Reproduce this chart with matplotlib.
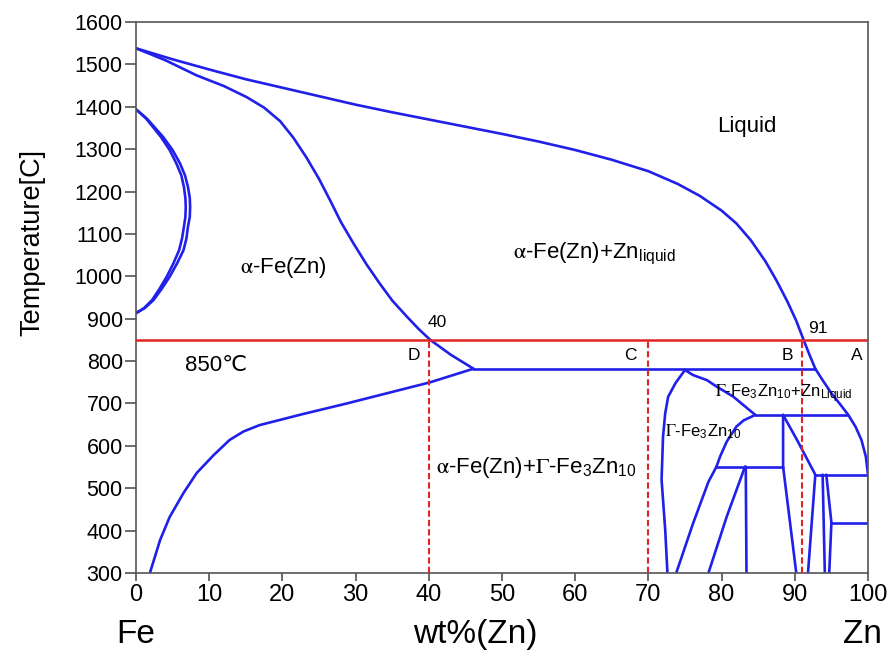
import matplotlib
matplotlib.use("Agg")
import matplotlib.pyplot as plt

plt.rcParams.update({
    "font.family": ["Liberation Sans", "DejaVu Sans"],
    "mathtext.fontset": "stix",
    "axes.linewidth": 1.2,
})

# ---- phase boundaries: (wt% Zn, T in C) ----
liq_x = [0, 5, 10, 15, 20, 25, 30, 35, 40, 45, 50, 55, 60, 65, 70, 74, 77, 80,
         82, 84, 86, 87.5, 89, 90.2, 91.2, 92, 92.8]
liq_t = [1538, 1512, 1488, 1465, 1445, 1425, 1405, 1387, 1370, 1353, 1336, 1318,
         1298, 1275, 1248, 1218, 1190, 1155, 1125, 1085, 1035, 990, 940, 895, 850,
         815, 782]

sol_x = [0, 4, 8.3, 12, 15.1, 17.5, 19.7, 21.5, 23.3, 25, 26.5, 28, 29.7, 31.5,
         33.3, 35, 37, 38.6, 40.2, 43, 46.1]
sol_t = [1538, 1510, 1474, 1449, 1423, 1398, 1366, 1327, 1280, 1230, 1180, 1128,
         1078, 1028, 983, 943, 905, 876, 850, 815, 782]

solv_x = [46.1, 40.2, 34.5, 28.8, 22.8, 16.9, 14.7, 12.8, 10.6, 8.3, 6.5, 4.6,
          3.3, 1.9]
solv_t = [782, 750, 725, 700, 675, 649, 634, 614, 578, 536, 489, 432, 378, 300]

loop_out_x = [0, 1.5, 3.7, 5.0, 6.0, 6.7, 7.1, 7.35, 7.4, 7.35, 7.1, 6.9, 6.5,
              5.6, 4.6, 3.5, 2.4, 1.2, 0]
loop_out_t = [1394, 1372, 1329, 1298, 1267, 1238, 1211, 1185, 1164, 1140, 1117,
              1090, 1062, 1030, 999, 970, 944, 925, 913]
loop_in_x = [0, 1.4, 3.4, 4.6, 5.5, 6.2, 6.55, 6.75, 6.8, 6.75, 6.55, 6.3, 5.9,
             5.1, 4.2, 3.2, 2.2, 1.1, 0]
loop_in_t = loop_out_t

per782_x = [46.1, 92.8]
per782_t = [782, 782]

gam_left_x = [75, 73.7, 72.7, 72.3, 72.0, 71.8, 72.3, 72.6]
gam_left_t = [779, 748, 716, 677, 622, 520, 401, 300]
gam_liq_x = [75, 76.1, 78, 79.3, 81.6, 84.6]
gam_liq_t = [779, 767, 755, 740, 716, 673]

znliq_x = [92.8, 93.8, 95.0, 96.2, 97.3, 98.3, 99.1, 99.7, 100]
znliq_t = [782, 755, 724, 698, 673, 645, 614, 575, 532]

h672_x = [84.6, 97.3]
h672_t = [673, 673]
g1_x = [84.6, 83.0, 82.0, 80.7, 79.8, 79.3]
g1_t = [673, 660, 645, 610, 575, 551]
h550_x = [79.3, 88.4]
h550_t = [551, 551]
d_left_x = [88.4, 88.4, 90.2]
d_left_t = [673, 551, 300]
d_right_x = [88.4, 90.3, 92.8, 91.8]
d_right_t = [673, 614, 532, 300]
h530_x = [92.8, 100]
h530_t = [532, 532]
e_x = [93.8, 94.1]
e_t = [532, 300]
f_x = [94.3, 95.0, 94.7]
f_t = [532, 419, 300]
h419_x = [95.0, 100, 100]
h419_t = [419, 419, 532]
g_x = [79.3, 78.2, 76.1, 73.8]
g_t = [551, 515, 417, 300]
h_x = [83.2, 80.7, 78.2]
h_t = [551, 433, 300]
i_x = [83.3, 83.4]
i_t = [551, 300]

BLUE_LINES = [
    (liq_x, liq_t), (sol_x, sol_t), (solv_x, solv_t),
    (loop_out_x, loop_out_t), (loop_in_x, loop_in_t),
    (per782_x, per782_t), (gam_left_x, gam_left_t), (gam_liq_x, gam_liq_t),
    (znliq_x, znliq_t), (h672_x, h672_t), (g1_x, g1_t), (h550_x, h550_t),
    (d_left_x, d_left_t), (d_right_x, d_right_t), (h530_x, h530_t),
    (e_x, e_t), (f_x, f_t), (h419_x, h419_t),
    (g_x, g_t), (h_x, h_t), (i_x, i_t),
]

iso_t = 850
cut_x = [40, 70, 91]

x_ticks = list(range(0, 101, 10))
y_ticks = list(range(300, 1601, 100))

BLUE = "#2020ea"
RED = "#e02424"

fig = plt.figure(figsize=(8.91, 6.59), dpi=100)
ax = fig.add_axes([0.1526, 0.1305, 0.8216, 0.8361])

for xs, ts in BLUE_LINES:
    ax.plot(xs, ts, color=BLUE, lw=1.9, solid_joinstyle="round",
            solid_capstyle="round", zorder=2)

ax.axhline(iso_t, color=RED, lw=1.8, zorder=3)
for cx in cut_x:
    ax.plot([cx, cx], [300, iso_t], color=RED, lw=1.5, ls=(0, (3, 1.5)), zorder=3)

ax.set_xlim(0, 100)
ax.set_ylim(300, 1600)
ax.set_xticks(x_ticks)
ax.set_yticks(y_ticks)
ax.set_xticklabels([str(v) for v in x_ticks],
                   fontsize=17, family=["Liberation Sans Narrow", "Liberation Sans"])
ax.set_yticklabels([str(v) for v in y_ticks], fontsize=15.5)
ax.tick_params(axis="y", length=8, width=1.1, pad=1.5, color="#444444")
ax.tick_params(axis="x", length=6, width=1.1, pad=2, color="#444444")
for sp in ax.spines.values():
    sp.set_color("#555555")

SUB3 = r"$_{\mathregular{3}}$"
SUB10 = r"$_{\mathregular{10}}$"

# region labels
ax.text(83.5, 1353, "Liquid", fontsize=16, ha="center", va="center")
ax.text(14.2, 1020, r"$\mathrm{\alpha}$-Fe(Zn)", fontsize=16, ha="left", va="center")
ax.text(51.5, 1055, r"$\mathrm{\alpha}$-Fe(Zn)+Zn$_{\mathregular{liquid}}$",
        fontsize=16, ha="left", va="center")
ax.text(41.1, 890, "40", fontsize=12.5, ha="center", va="center")
ax.text(93.2, 878, "91", fontsize=12.5, ha="center", va="center")
ax.text(6.7, 790, "850\u2103", fontsize=16, ha="left", va="center",
        family=["Liberation Sans", "DejaVu Sans"])
for lab, lx in zip(["D", "C", "B", "A"], [37.9, 67.6, 89.0, 98.5]):
    ax.text(lx, 814, lab, fontsize=12.5, ha="center", va="center")
ax.text(79.1, 722, r"$\Gamma$-Fe" + SUB3 + "Zn" + SUB10 + r"+Zn$_{\mathregular{Liquid}}$",
        fontsize=12, ha="left", va="center")
ax.text(72.3, 633, r"$\Gamma$-Fe" + SUB3 + "Zn" + SUB10,
        fontsize=12, ha="left", va="center")
ax.text(41.0, 550, r"$\mathrm{\alpha}$-Fe(Zn)+$\Gamma$-Fe" + SUB3 + "Zn" + SUB10,
        fontsize=16, ha="left", va="center")

# axis captions
xt = ax.get_xaxis_transform()
ax.text(0, -0.112, "Fe", transform=xt, fontsize=24, ha="center", va="center")
ax.text(46.3, -0.112, "wt%(Zn)", transform=xt, fontsize=24, ha="center", va="center")
ax.text(99.2, -0.112, "Zn", transform=xt, fontsize=24, ha="center", va="center")
fig.text(32 / 891, 1 - 242 / 659, "Temperature[C]", rotation=90,
         fontsize=19.5, ha="center", va="center")

fig.savefig("out.png", dpi=100)
